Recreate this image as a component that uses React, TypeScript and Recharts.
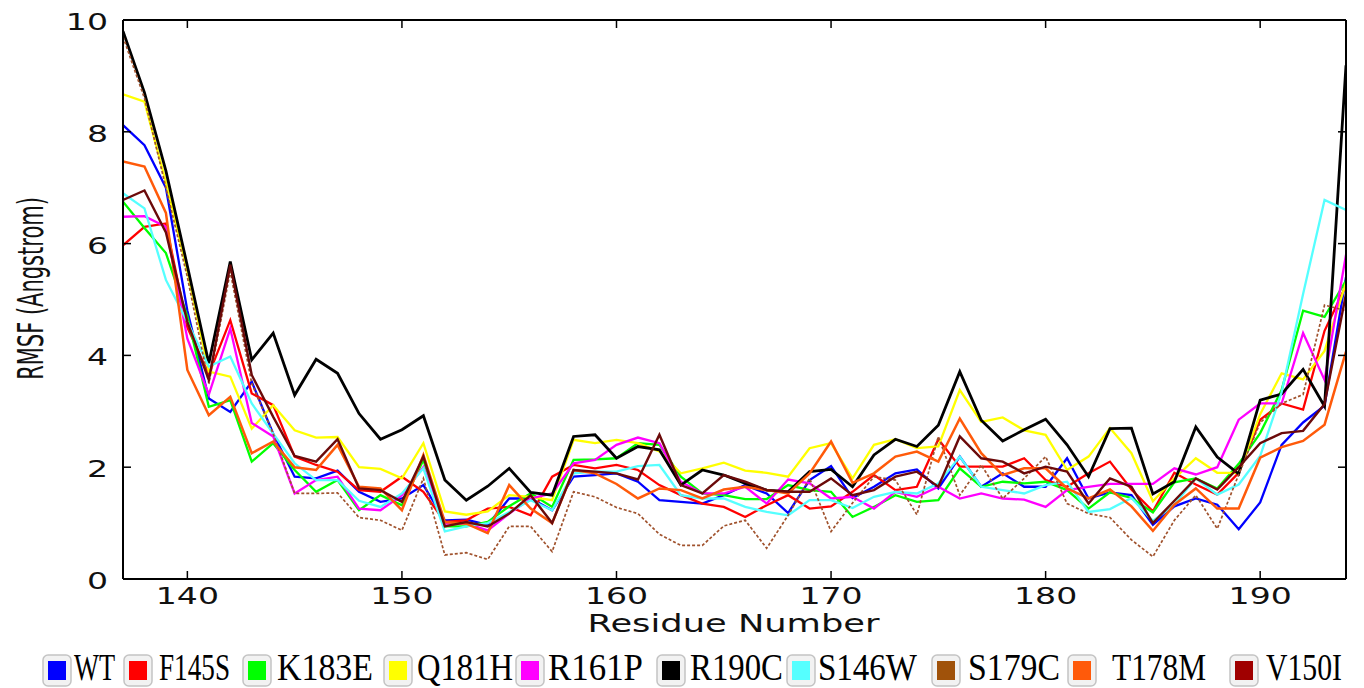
import { Line, LineChart, XAxis, YAxis } from 'recharts'

// residue numbers 137..194, one RMSF value (Angstrom) per residue
const residues = [
	137, 138, 139, 140, 141, 142, 143, 144, 145, 146, 147, 148, 149, 150, 151, 152, 153, 154, 155, 156,
	157, 158, 159, 160, 161, 162, 163, 164, 165, 166, 167, 168, 169, 170, 171, 172, 173, 174, 175, 176,
	177, 178, 179, 180, 181, 182, 183, 184, 185, 186, 187, 188, 189, 190, 191, 192, 193, 194,
]

const wt = [
	8.12, 7.76, 7.0, 4.8, 3.23, 2.99, 3.53, 2.6, 1.83, 1.8,
	1.94, 1.56, 1.38, 1.44, 1.68, 1.05, 1.06, 0.97, 1.44, 1.44,
	1.23, 1.83, 1.86, 1.89, 1.74, 1.41, 1.38, 1.35, 1.5, 1.68,
	1.53, 1.18, 1.77, 2.02, 1.45, 1.65, 1.89, 1.96, 1.62, 2.19,
	1.65, 1.89, 1.65, 1.65, 2.16, 1.44, 1.55, 1.5, 0.97, 1.3,
	1.44, 1.33, 0.89, 1.37, 2.4, 2.8, 3.1, 5.4,
]
const f145s = [
	5.97, 6.3, 6.36, 4.5, 3.66, 4.63, 3.32, 3.11, 2.19, 2.04,
	1.92, 1.59, 1.56, 1.83, 1.56, 1.02, 1.05, 1.26, 1.29, 1.14,
	1.83, 2.04, 1.98, 2.04, 1.95, 1.68, 1.5, 1.35, 1.29, 1.11,
	1.32, 1.5, 1.26, 1.3, 1.56, 1.86, 1.59, 1.65, 2.5, 2.01,
	2.01, 2.01, 2.16, 1.77, 1.65, 1.89, 2.1, 1.6, 1.21, 1.9,
	1.69, 1.51, 1.9, 2.85, 3.14, 3.03, 4.44, 5.25,
]
const k183e = [
	6.75, 6.28, 5.83, 4.7, 3.08, 3.2, 2.1, 2.43, 1.95, 1.56,
	1.77, 1.23, 1.5, 1.32, 2.13, 0.94, 0.94, 1.02, 1.3, 1.53,
	1.29, 2.13, 2.14, 2.16, 2.43, 2.4, 1.83, 1.53, 1.5, 1.43,
	1.43, 1.68, 1.59, 1.56, 1.11, 1.29, 1.5, 1.38, 1.41, 1.98,
	1.65, 1.74, 1.71, 1.74, 1.59, 1.26, 1.55, 1.45, 1.19, 1.73,
	1.8, 1.62, 2.06, 2.61, 3.38, 4.8, 4.69, 5.34,
]
const q181h = [
	8.67, 8.54, 7.1, 5.5, 3.71, 3.62, 2.69, 3.11, 2.66, 2.53,
	2.54, 2.0, 1.97, 1.8, 2.43, 1.21, 1.15, 1.21, 1.5, 1.47,
	1.41, 2.49, 2.43, 2.49, 2.43, 2.28, 1.89, 1.98, 2.08, 1.94,
	1.9, 1.83, 2.34, 2.43, 1.8, 2.4, 2.5, 2.34, 2.37, 3.38,
	2.81, 2.89, 2.66, 2.58, 1.95, 2.19, 2.7, 2.25, 1.39, 1.8,
	2.16, 1.9, 1.9, 2.95, 3.68, 3.57, 4.08, 5.3,
]
const r161p = [
	6.48, 6.49, 6.3, 4.3, 3.3, 4.48, 2.79, 2.55, 1.53, 1.77,
	1.83, 1.26, 1.23, 1.5, 2.0, 0.99, 0.99, 0.87, 1.17, 1.44,
	1.53, 2.07, 2.13, 2.4, 2.53, 2.43, 1.74, 1.53, 1.53, 1.65,
	1.35, 1.78, 1.71, 1.44, 1.47, 1.26, 1.56, 1.47, 1.65, 1.44,
	1.53, 1.44, 1.42, 1.29, 1.59, 1.65, 1.7, 1.7, 1.7, 1.98,
	1.87, 2.0, 2.85, 3.14, 3.14, 4.4, 3.56, 5.8,
]
const r190c = [
	9.8, 8.7, 7.3, 5.6, 3.86, 5.68, 3.92, 4.4, 3.29, 3.93,
	3.68, 2.96, 2.5, 2.67, 2.92, 1.77, 1.41, 1.66, 1.98, 1.55,
	1.5, 2.55, 2.58, 2.16, 2.37, 2.31, 1.68, 1.95, 1.86, 1.71,
	1.59, 1.56, 1.92, 1.96, 1.65, 2.22, 2.5, 2.37, 2.75, 3.71,
	2.84, 2.47, 2.67, 2.86, 2.4, 1.83, 2.69, 2.7, 1.52, 1.74,
	2.72, 2.18, 1.88, 3.2, 3.31, 3.75, 3.09, 9.19,
]
const s146w = [
	6.9, 6.63, 5.35, 4.6, 3.8, 3.98, 3.14, 2.6, 2.07, 1.77,
	1.77, 1.4, 1.29, 1.53, 1.98, 0.85, 0.94, 1.0, 1.2, 1.41,
	1.23, 1.89, 1.92, 1.92, 2.02, 2.04, 1.5, 1.44, 1.44, 1.29,
	1.2, 1.14, 1.41, 1.41, 1.27, 1.47, 1.56, 1.53, 1.71, 2.19,
	1.65, 1.59, 1.53, 1.68, 1.74, 1.2, 1.25, 1.45, 1.04, 1.33,
	1.8, 1.51, 1.69, 2.2, 3.34, 5.1, 6.78, 6.6,
]
const s179c = [
	9.7, 8.6, 7.0, 5.4, 3.5, 5.5, 3.5, 2.6, 1.53, 1.53,
	1.54, 1.1, 1.05, 0.87, 1.8, 0.43, 0.47, 0.35, 0.94, 0.94,
	0.49, 1.56, 1.47, 1.28, 1.17, 0.8, 0.6, 0.6, 0.95, 1.05,
	0.55, 1.14, 1.8, 0.85, 1.36, 1.83, 1.77, 1.15, 2.55, 1.5,
	2.04, 1.44, 1.8, 2.19, 1.35, 1.17, 1.1, 0.7, 0.4, 1.05,
	1.5, 0.9, 1.87, 2.8, 3.14, 3.3, 4.9, 4.8,
]
const t178m = [
	7.47, 7.38, 6.55, 3.74, 2.93, 3.26, 2.25, 2.46, 2.0, 1.95,
	2.4, 1.65, 1.62, 1.23, 2.22, 1.02, 0.99, 0.82, 1.68, 1.26,
	1.0, 1.95, 1.89, 1.7, 1.44, 1.62, 1.59, 1.44, 1.6, 1.65,
	1.59, 1.53, 1.89, 2.46, 1.72, 1.89, 2.19, 2.28, 2.1, 2.87,
	2.25, 1.86, 1.98, 1.98, 1.62, 1.44, 1.6, 1.3, 0.86, 1.33,
	1.62, 1.26, 1.26, 2.17, 2.36, 2.47, 2.76, 4.07,
]
const v150i = [
	6.78, 6.95, 6.2, 4.6, 3.56, 5.62, 3.65, 2.9, 2.2, 2.1,
	2.5, 1.62, 1.59, 1.38, 2.19, 0.94, 1.02, 0.94, 1.17, 1.5,
	1.0, 1.95, 1.92, 1.89, 1.78, 2.58, 1.68, 1.53, 1.86, 1.74,
	1.59, 1.56, 1.56, 1.8, 1.5, 1.59, 1.83, 1.92, 1.65, 2.55,
	2.16, 2.1, 1.89, 2.01, 1.92, 1.35, 1.8, 1.65, 1.0, 1.4,
	1.8, 1.6, 2.0, 2.43, 2.61, 2.65, 3.13, 5.1,
]

const seriesNames = ['WT', 'F145S', 'K183E', 'Q181H', 'R161P', 'R190C', 'S146W', 'S179C', 'T178M', 'V150I']
const seriesValues = [wt, f145s, k183e, q181h, r161p, r190c, s146w, s179c, t178m, v150i]

const xTicks = [140, 150, 160, 170, 180, 190]
const yTicks = [0, 2, 4, 6, 8, 10]

// line look per series
const lineColors = ['#0000ff', '#ff0000', '#00ff00', '#ffff00', '#ff00ff', '#000000', '#55ffff', '#a0522d', '#ff5a0a', '#6b0a0a']
const legendColors = ['#0000ff', '#ff0000', '#00ff00', '#ffff00', '#ff00ff', '#000000', '#55ffff', '#a0520a', '#ff5a0a', '#a00000']
const lineWidths = [2.3, 2.3, 2.3, 2.3, 2.3, 2.8, 2.3, 1.7, 2.5, 2.4]

// legend placement (page px)
const legendBoxX = [43, 124, 243, 384, 516, 657, 787, 932, 1068, 1230]
const legendTextX = [74, 159, 277, 417, 548, 690, 818, 968, 1112, 1266]
const legendTextW = [41, 71, 96, 96, 95, 93, 99, 92, 94, 76]

const data = residues.map((r, i) => {
	const row: { [k: string]: number } = { residue: r }
	seriesNames.forEach((n, j) => (row[n] = seriesValues[j][i]))
	return row
})

const SX = 1.44
const sansFont = "'DejaVu Sans', sans-serif"

const BottomTick = ({ x, y, payload }: any) => (
	<g>
		<line x1={x} x2={x} y1={y} y2={y - 8} stroke='#000' strokeWidth={1.5} />
		<text transform={`translate(${x},${y + 25}) scale(${SX},1)`} textAnchor='middle' fontFamily={sansFont} fontSize={23} fill='#111'>
			{payload.value}
		</text>
	</g>
)

const TopTick = ({ x, y }: any) => <line x1={x} x2={x} y1={y} y2={y + 8} stroke='#000' strokeWidth={1.5} />

const LeftTick = ({ x, y, payload }: any) => (
	<g>
		<line x1={x} x2={x + 8} y1={y} y2={y} stroke='#000' strokeWidth={1.5} />
		<text transform={`translate(${x - 15},${y + 10}) scale(${SX},1)`} textAnchor='end' fontFamily={sansFont} fontSize={23} fill='#111'>
			{payload.value}
		</text>
	</g>
)

const RightTick = ({ x, y }: any) => <line x1={x} x2={x - 8} y1={y} y2={y} stroke='#000' strokeWidth={1.5} />

const XLabel = ({ viewBox }: any) => (
	<text transform={`translate(${viewBox.x + viewBox.width / 2 - 1},${viewBox.y + 53}) scale(1.47,1)`} textAnchor='middle' fontFamily={sansFont} fontSize={24} fill='#111'>
		Residue Number
	</text>
)

const YLabel = ({ viewBox }: any) => (
	<text transform={`translate(${viewBox.x + viewBox.width - 80},${viewBox.y + viewBox.height / 2 - 11}) scale(1.7,1) rotate(-90)`} textAnchor='middle' fontFamily={sansFont} fontSize={21} fill='#111'>
		RMSF (Angstrom)
	</text>
)

const LegendRow = () => (
	<svg width={1364} height={58} style={{ position: 'absolute', left: 0, top: 630 }}>
		{seriesNames.map((n, i) => (
			<g key={n}>
				<rect x={legendBoxX[i]} y={25} width={28} height={31} rx={5} fill='#f2f2f2' stroke='#c4c4c4' strokeWidth={1.5} />
				<rect x={legendBoxX[i] + 5} y={31} width={18} height={19} fill={legendColors[i]} />
				<text x={legendTextX[i]} y={50} textLength={legendTextW[i]} lengthAdjust='spacingAndGlyphs' fontFamily="'Liberation Serif', 'Times New Roman', serif" fontSize={37} fill='#000'>
					{n}
				</text>
			</g>
		))}
	</svg>
)

export default function App() {
	return (
		<div style={{ position: 'absolute', left: 0, top: 0, width: 1364, height: 688, background: '#fff' }}>
			<LineChart width={1364} height={640} data={data} margin={{ top: 19, right: 17, bottom: 60, left: 122 }}>
				<XAxis
					dataKey='residue'
					type='number'
					domain={[137, 194]}
					ticks={xTicks}
					allowDataOverflow
					height={1}
					tickSize={0}
					tickMargin={0}
					tick={<BottomTick />}
					axisLine={{ stroke: '#000', strokeWidth: 2 }}
					label={<XLabel />}
				/>
				<XAxis
					xAxisId='top'
					orientation='top'
					dataKey='residue'
					type='number'
					domain={[137, 194]}
					ticks={xTicks}
					allowDataOverflow
					height={1}
					tickSize={0}
					tickMargin={0}
					tick={<TopTick />}
					axisLine={{ stroke: '#000', strokeWidth: 2 }}
				/>
				<YAxis
					type='number'
					domain={[0, 10]}
					ticks={yTicks}
					allowDataOverflow
					width={1}
					tickSize={0}
					tickMargin={0}
					tick={<LeftTick />}
					axisLine={{ stroke: '#000', strokeWidth: 2 }}
					label={<YLabel />}
				/>
				<YAxis
					yAxisId='right'
					orientation='right'
					type='number'
					domain={[0, 10]}
					ticks={yTicks}
					allowDataOverflow
					width={1}
					tickSize={0}
					tickMargin={0}
					tick={<RightTick />}
					axisLine={{ stroke: '#000', strokeWidth: 2 }}
				/>
				{seriesNames.map((n, i) => (
					<Line
						key={n}
						dataKey={n}
						type='linear'
						stroke={lineColors[i]}
						strokeWidth={lineWidths[i]}
						strokeDasharray={n === 'S179C' ? '3 2' : undefined}
						dot={false}
						activeDot={false}
						isAnimationActive={false}
					/>
				))}
			</LineChart>
			<LegendRow />
		</div>
	)
}
